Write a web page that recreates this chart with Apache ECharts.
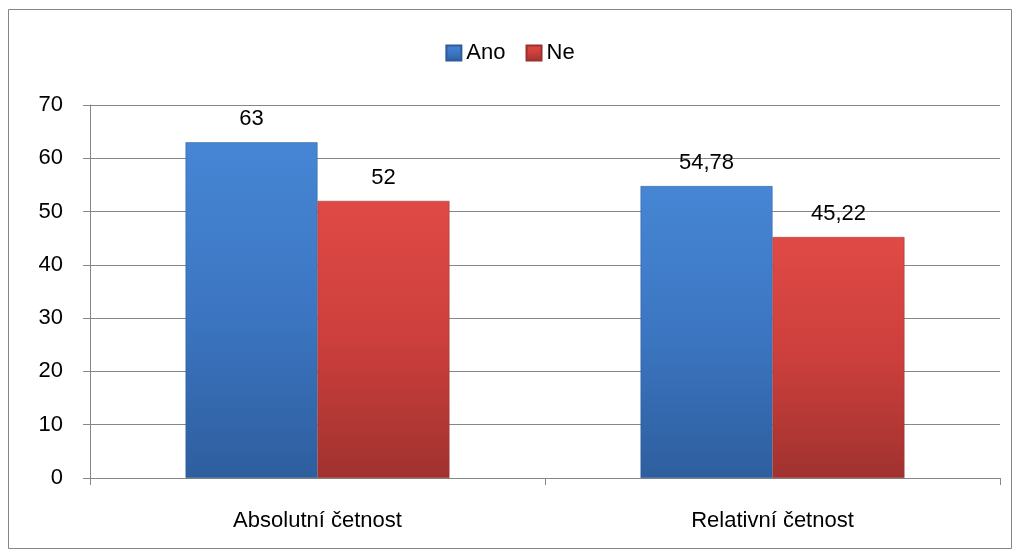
<!DOCTYPE html>
<html><head><meta charset="utf-8">
<script src="https://cdn.jsdelivr.net/npm/echarts@6/dist/echarts.min.js"></script>
<style>html,body{margin:0;padding:0;background:#fff}#c{width:1020px;height:558px}</style>
</head><body><div id="c"></div>
<script>
const categories = ['Absolutní četnost', 'Relativní četnost'];
const seriesNames = ['Ano', 'Ne'];
const anoValues = [63, 54.78];
const neValues = [52, 45.22];
const yTicks = [0, 10, 20, 30, 40, 50, 60, 70];

const fmt = v => String(v).replace('.', ',');
const grad = (a, b, c) => new echarts.graphic.LinearGradient(0, 0, 0, 1, [
  {offset: 0, color: a}, {offset: 0.5, color: b}, {offset: 1, color: c}]);
const blue = grad('#4686d4', '#3c76c2', '#2e5e9e');
const red = grad('#e04a46', '#cc3f3c', '#a0322f');
const font = '"Liberation Sans", Arial, sans-serif';
const fs = 22;

const chart = echarts.init(document.getElementById('c'));
chart.setOption({
  animation: false,
  textStyle: {fontFamily: font},
  graphic: [{type: 'rect', shape: {x: 8.5, y: 9.5, width: 1003, height: 539},
    style: {fill: 'none', stroke: '#868686', lineWidth: 1}, silent: true}],
  legend: {
    data: seriesNames, top: 37, left: 'center', icon: 'rect', itemWidth: 15, itemHeight: 15, itemGap: 20,
    textStyle: {fontSize: fs, color: '#000', fontFamily: font, padding: [0, 0, 0, 0]}
  },
  grid: {left: 90, right: 20, top: 105, bottom: 80},
  xAxis: {
    type: 'category', data: categories,
    axisLine: {lineStyle: {color: '#868686'}},
    axisTick: {show: true, length: 7, lineStyle: {color: '#868686'}},
    axisLabel: {fontSize: fs, color: '#000', margin: 32, fontFamily: font}
  },
  yAxis: {
    type: 'value', min: yTicks[0], max: yTicks[yTicks.length - 1], interval: 10,
    axisLine: {show: true, lineStyle: {color: '#868686'}},
    axisTick: {show: true, length: 7, lineStyle: {color: '#868686'}},
    splitLine: {lineStyle: {color: '#868686'}},
    axisLabel: {fontSize: fs, color: '#000', margin: 27, fontFamily: font}
  },
  series: [
    {name: seriesNames[0], type: 'bar', data: anoValues, barGap: '0%', barCategoryGap: '42%',
      itemStyle: {color: blue, borderColor: '#2d5c99', borderWidth: 0.5},
      label: {show: true, position: 'top', distance: 12, fontSize: fs, color: '#000', fontFamily: font, formatter: p => fmt(p.value)}},
    {name: seriesNames[1], type: 'bar', data: neValues,
      itemStyle: {color: red, borderColor: '#9c302e', borderWidth: 0.5},
      label: {show: true, position: 'top', distance: 12, fontSize: fs, color: '#000', fontFamily: font, formatter: p => fmt(p.value)}}
  ]
});
</script></body></html>
